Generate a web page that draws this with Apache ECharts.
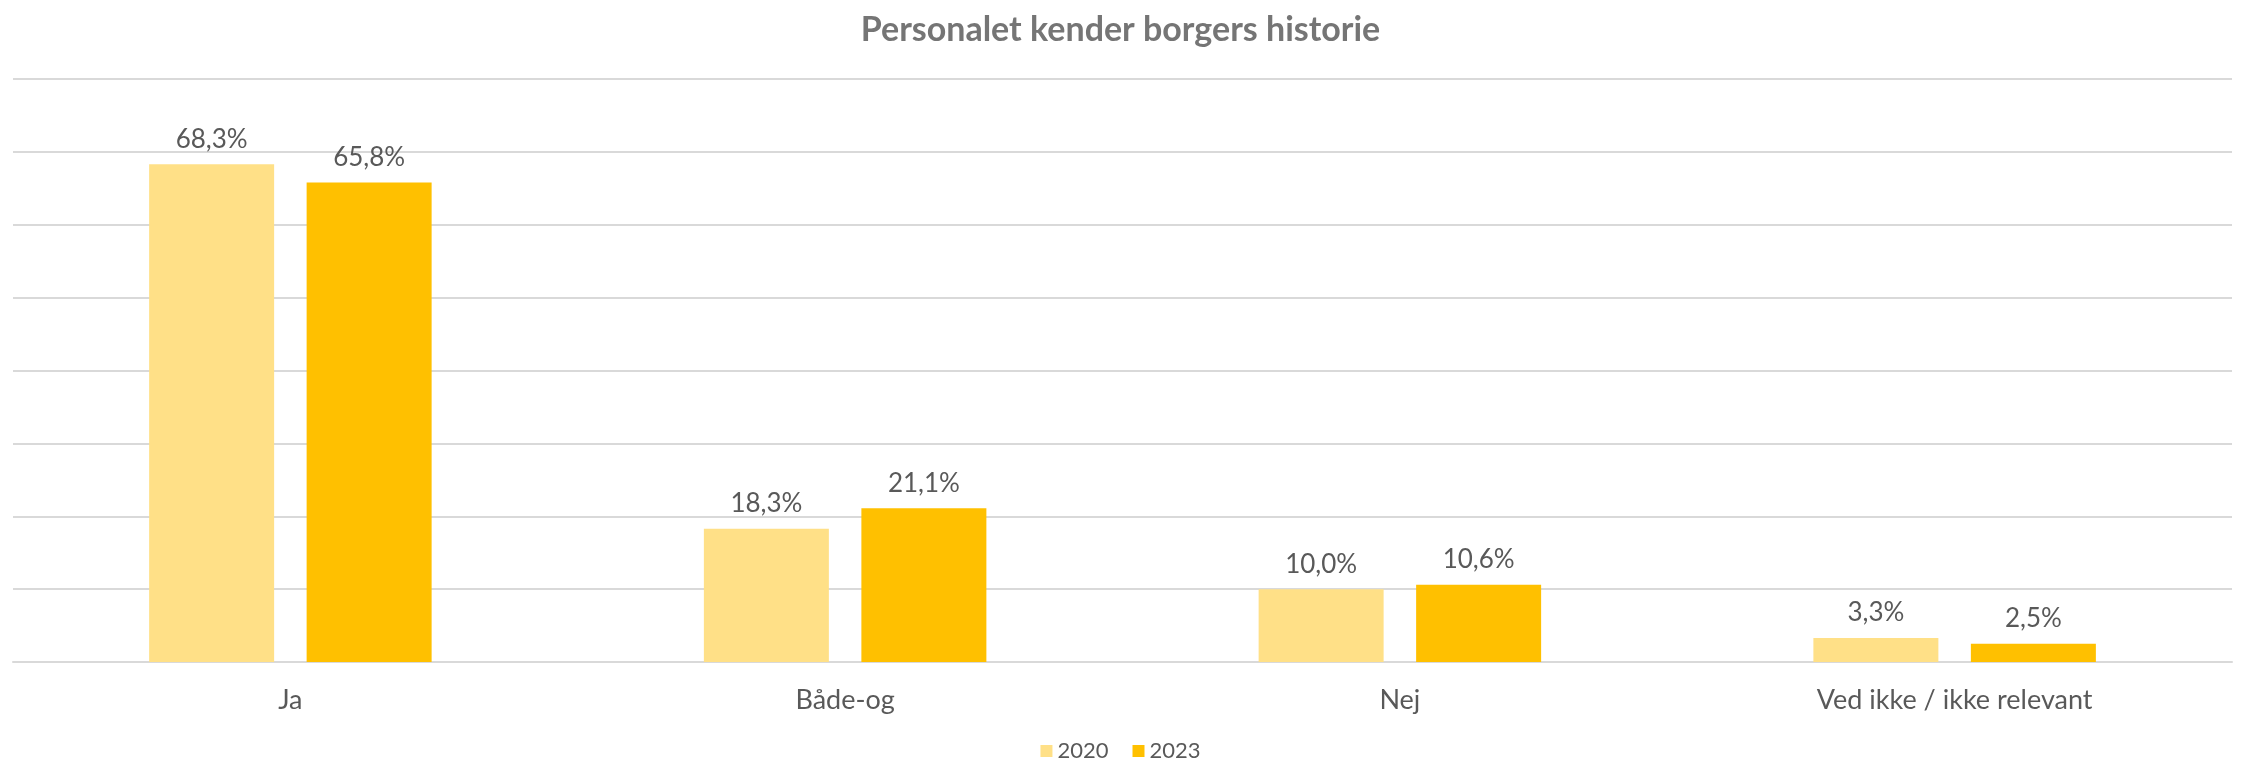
<!DOCTYPE html>
<html>
<head>
<meta charset="utf-8">
<script src="https://cdn.jsdelivr.net/npm/echarts@6/dist/echarts.min.js"></script>
<style>
  html, body { margin: 0; padding: 0; background: #fff; }
  #chart { width: 2241px; height: 766px; }
</style>
</head>
<body>
<div id="chart"></div>
<script>
// data
const categories = ['Ja', 'Både-og', 'Nej', 'Ved ikke / ikke relevant']
const values2020 = [68.3, 18.3, 10.0, 3.3]
const values2023 = [65.8, 21.1, 10.6, 2.5]
const seriesNames = ['2020', '2023']

const chart = echarts.init(document.getElementById('chart'))
const fmt = p => p.value.toFixed(1).replace('.', ',') + '%'
const labelStyle = {
  show: true,
  position: 'top',
  distance: 12,
  color: '#595959',
  fontSize: 26,
  fontFamily: 'Lato',
  formatter: fmt
}

const option = {
  animation: false,
  title: {
    text: 'Personalet kender borgers historie',
    left: 'center',
    top: 8,
    textStyle: { color: '#757575', fontSize: 34, fontWeight: 'bold', fontFamily: 'Lato' }
  },
  legend: {
    top: 740,
    left: 'center',
    padding: 0,
    itemWidth: 12,
    itemHeight: 12,
    itemGap: 24,
    icon: 'rect',
    textStyle: { color: '#595959', fontSize: 22, fontFamily: 'Lato' },
    data: seriesNames
  },
  grid: { left: 13, right: 9, top: 79, bottom: 104 },
  xAxis: {
    type: 'category',
    data: categories,
    axisTick: { show: false },
    axisLine: { lineStyle: { color: '#D9D9D9', width: 2 } },
    axisLabel: { color: '#595959', fontSize: 27, fontFamily: 'Lato', margin: 25 }
  },
  yAxis: {
    type: 'value',
    min: 0,
    max: 80,
    interval: 10,
    axisLabel: { show: false },
    splitLine: { lineStyle: { color: '#D9D9D9', width: 2 } }
  },
  series: [
    {
      name: seriesNames[0],
      type: 'bar',
      data: values2020,
      barWidth: 125,
      barGap: '26%',
      itemStyle: { color: '#FFE087' },
      label: labelStyle
    },
    {
      name: seriesNames[1],
      type: 'bar',
      data: values2023,
      barWidth: 125,
      barGap: '26%',
      itemStyle: { color: '#FFC000' },
      label: labelStyle
    }
  ]
}
chart.setOption(option)
</script>
</body>
</html>
